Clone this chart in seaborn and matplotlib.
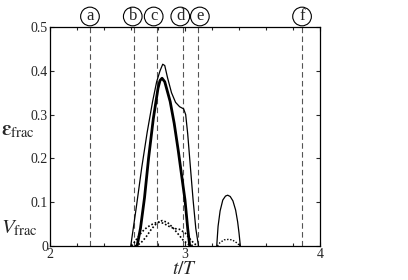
import numpy as np
import pandas as pd
import matplotlib
matplotlib.use("Agg")
import matplotlib.pyplot as plt
import matplotlib.transforms as mtransforms
from matplotlib.ticker import MultipleLocator
import seaborn as sns

# ---- data ----
thin_t = [2.598, 2.64, 2.68, 2.72, 2.76, 2.79, 2.815, 2.835, 2.85, 2.87, 2.90, 2.93, 2.96, 2.99, 3.005, 3.02, 3.04, 3.06, 3.08, 3.10]
thin_v = [0.0, 0.09, 0.18, 0.26, 0.33, 0.375, 0.40, 0.415, 0.412, 0.385, 0.35, 0.328, 0.318, 0.313, 0.30, 0.256, 0.18, 0.105, 0.04, 0.0]

thick_t = [2.645, 2.67, 2.70, 2.73, 2.765, 2.80, 2.815, 2.83, 2.85, 2.89, 2.92, 2.95, 2.98, 3.00, 3.02, 3.035]
thick_v = [0.0, 0.04, 0.11, 0.20, 0.29, 0.36, 0.378, 0.383, 0.375, 0.33, 0.28, 0.218, 0.15, 0.105, 0.04, 0.0]

dotA_t = [2.63, 2.67, 2.71, 2.75, 2.79, 2.83, 2.87, 2.91, 2.95, 2.99, 3.03, 3.07]
dotA_v = [0.0, 0.006, 0.02, 0.038, 0.052, 0.058, 0.054, 0.042, 0.027, 0.012, 0.003, 0.0]

dotB_t = [2.605, 2.64, 2.68, 2.72, 2.76, 2.80, 2.84, 2.88, 2.92, 2.96, 3.00, 3.04, 3.07, 3.10]
dotB_v = [0.0, 0.015, 0.032, 0.043, 0.05, 0.055, 0.052, 0.045, 0.04, 0.038, 0.03, 0.015, 0.005, 0.0]

bump_t = [3.235, 3.245, 3.26, 3.28, 3.30, 3.316, 3.335, 3.355, 3.375, 3.39, 3.40, 3.41]
bump_v = [0.0, 0.045, 0.08, 0.105, 0.114, 0.116, 0.113, 0.103, 0.082, 0.055, 0.03, 0.0]

bumpd_t = [3.24, 3.26, 3.29, 3.32, 3.35, 3.38, 3.41]
bumpd_v = [0.0, 0.008, 0.014, 0.015, 0.014, 0.008, 0.0]

events = ["a", "b", "c", "d", "e", "f"]
event_t = [2.296, 2.622, 2.79, 2.985, 3.096, 3.87]
event_label_t = [2.296, 2.613, 2.768, 2.965, 3.11, 3.867]

x_ticks = [2, 3, 4]
y_ticks = [0, 0.1, 0.2, 0.3, 0.4, 0.5]
y_tick_labels = ["0", "0.1", "0.2", "0.3", "0.4", "0.5"]

# ---- figure ----
sns.set_style("ticks")
plt.rcParams["font.family"] = ["Liberation Serif", "DejaVu Serif"]
plt.rcParams["mathtext.fontset"] = "stix"

fig = plt.figure(figsize=(4.08, 2.80), dpi=100)
ax = fig.add_axes([50/408, 34/280, 270/408, 219/280])

for t in event_t:
    ax.axvline(t, color="#555555", lw=0.8, ls=(0, (5, 3)), zorder=1)

def draw(ts, vs, **kw):
    df = pd.DataFrame({"t": ts, "v": vs})
    sns.lineplot(data=df, x="t", y="v", ax=ax, sort=False, estimator=None, **kw)

draw(thin_t, thin_v, color="black", lw=0.9)
draw(thick_t, thick_v, color="black", lw=2.0)
draw(dotA_t, dotA_v, color="black", lw=1.2, ls=(0, (1, 1.2)))
draw(dotB_t, dotB_v, color="black", lw=1.2, ls=(0, (1, 1.2)))
draw(bump_t, bump_v, color="black", lw=0.9)
draw(bumpd_t, bumpd_v, color="black", lw=1.0, ls=(0, (1, 1.2)))

ax.set_xlim(2, 4)
ax.set_ylim(0, 0.5)
ax.set_xticks(x_ticks)
ax.set_xticklabels([str(x) for x in x_ticks], fontsize=10)
ax.set_yticks(y_ticks)
ax.set_yticklabels(y_tick_labels, fontsize=10)
ax.xaxis.set_minor_locator(MultipleLocator(0.2))
ax.tick_params(axis="both", which="both", direction="in", top=True, right=True, length=3, width=0.8, pad=1.5)
ax.tick_params(axis="both", which="minor", length=2)
ax.set_xlabel("")
ax.set_ylabel("")
for s in ax.spines.values():
    s.set_linewidth(0.9)
    s.set_color("black")

trans = mtransforms.blended_transform_factory(ax.transData, ax.transAxes)
for lab, t in zip(events, event_label_t):
    ax.text(t, 1.048, lab, transform=trans, ha="center", va="center", fontsize=12,
            bbox=dict(boxstyle="circle,pad=0.08", fc="white", ec="black", lw=0.8), clip_on=False)

fig.text(18/408, 1 - 131/280, r"$\boldsymbol{\varepsilon}_{\mathrm{frac}}$", fontsize=15, ha="center", va="center")
fig.text(19/408, 1 - 228/280, r"$V_{\mathrm{frac}}$", fontsize=15, ha="center", va="center")
fig.text(185/408, 1 - 270/280, r"$t/T$", fontsize=14, ha="center", va="center")

fig.savefig("out.png", dpi=100)
